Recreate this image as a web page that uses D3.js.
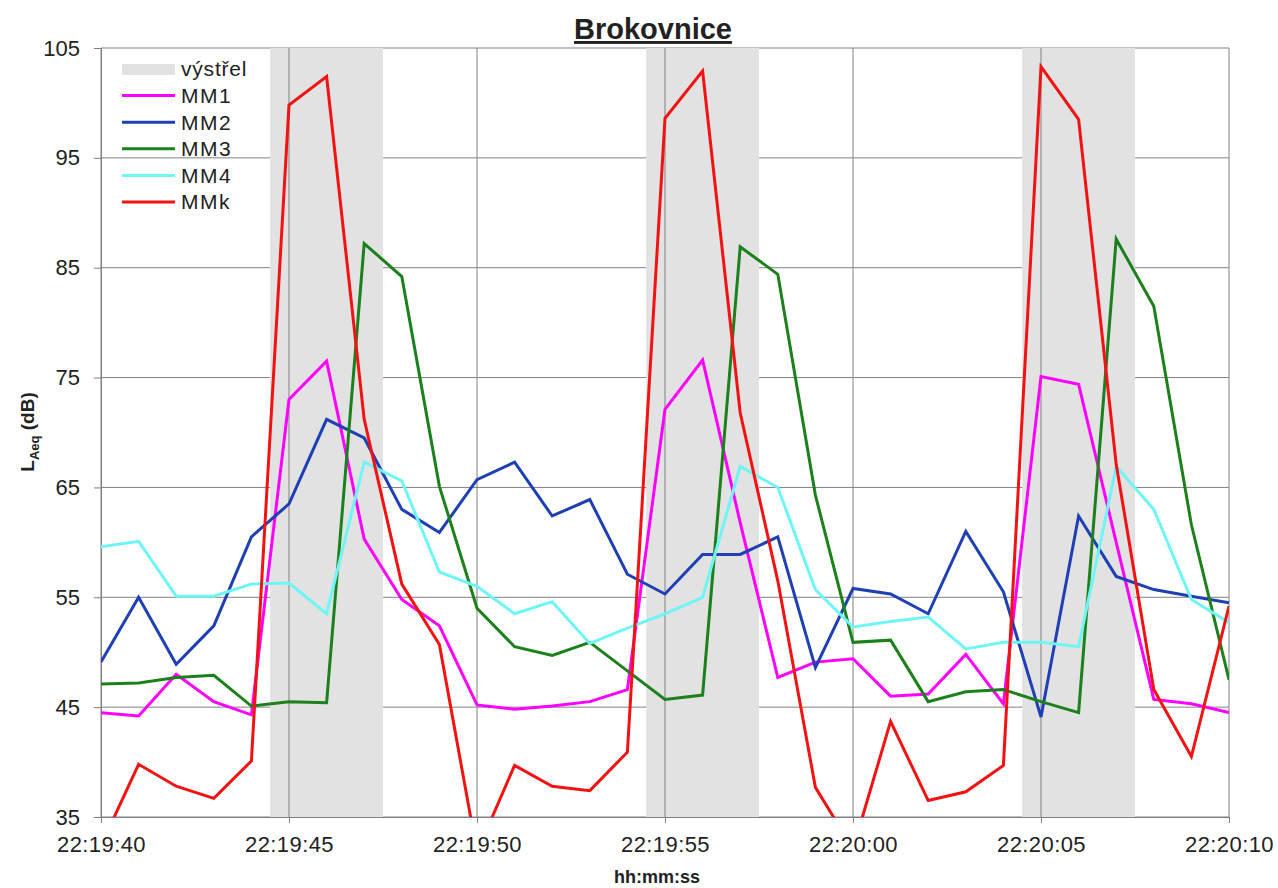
<!DOCTYPE html>
<html>
<head>
<meta charset="utf-8">
<script src="https://cdn.jsdelivr.net/npm/d3@7"></script>
<style>
  body { margin: 0; background: #fff; }
  text { font-family: "Liberation Sans", Arial, sans-serif; fill: #222; }
</style>
</head>
<body>
<div class="chart"></div>
<script>
// time axis: one reading per second, 22:19:40 .. 22:20:10
const startTime = '22:19:40'
const endTime = '22:20:10'
const tickEvery = 5

// shot intervals, seconds from start
const shotStart = [4.5, 14.5, 24.5]
const shotEnd = [7.5, 17.5, 27.5]

const seriesNames = ['MM1', 'MM2', 'MM3', 'MM4', 'MMk']
const colors = ['#ff00ff', '#1f3fb4', '#1c801c', '#6ff5f5', '#f21212']

const mm1 = [44.5, 44.2, 48.0, 45.5, 44.3, 73.0, 76.5, 60.3, 54.8, 52.4, 45.2, 44.8, 45.1, 45.5, 46.6, 72.1,
             76.6, 61.8, 47.7, 49.1, 49.4, 46.0, 46.2, 49.8, 45.3, 75.1, 74.4, 60.0, 45.7, 45.3, 44.5]
const mm2 = [49.1, 55.0, 48.9, 52.4, 60.5, 63.5, 71.2, 69.5, 63.0, 60.9, 65.7, 67.3, 62.4, 63.9, 57.1, 55.3,
             58.9, 58.9, 60.5, 48.6, 55.8, 55.3, 53.5, 61.0, 55.5, 44.1, 62.4, 56.9, 55.7, 55.1, 54.5]
const mm3 = [47.1, 47.2, 47.7, 47.9, 45.1, 45.5, 45.4, 87.2, 84.2, 65.1, 54.0, 50.5, 49.7, 50.9, 48.3, 45.7,
             46.1, 86.9, 84.4, 64.3, 50.9, 51.1, 45.5, 46.4, 46.6, 45.5, 44.5, 87.6, 81.5, 61.6, 47.5]
const mm4 = [59.6, 60.1, 55.1, 55.1, 56.2, 56.3, 53.5, 67.3, 65.6, 57.3, 56.0, 53.5, 54.6, 50.8, 52.2, 53.5,
             55.0, 66.9, 65.0, 55.7, 52.3, 52.8, 53.2, 50.3, 50.9, 50.9, 50.5, 66.9, 63.0, 54.8, 52.7]
const mmk = [32.4, 39.8, 37.8, 36.7, 40.1, 99.8, 102.4, 71.2, 56.2, 50.7, 31.8, 39.7, 37.8, 37.4, 40.9, 98.6,
             102.9, 71.8, 56.5, 37.7, 32.1, 43.7, 36.5, 37.3, 39.7, 103.3, 98.5, 67.1, 46.6, 40.5, 54.2]

const yMin = 35
const yMax = 105
const yStep = 10

const width = 1278
const height = 888
const margin = {top: 48, right: 49, bottom: 71, left: 101}
const w = width - margin.left - margin.right
const h = height - margin.top - margin.bottom

const parse = d3.timeParse('%H:%M:%S')
const t0 = parse(startTime)
const t1 = parse(endTime)
const times = d3.timeSecond.range(t0, d3.timeSecond.offset(t1, 1))

const x = d3.scaleTime().domain([t0, t1]).range([0, w])
const y = d3.scaleLinear().domain([yMin, yMax]).range([h, 0])
const sec = s => d3.timeMillisecond.offset(t0, s * 1000)

const svg = d3.select('.chart')
    .append('svg')
    .attr('width', width)
    .attr('height', height)

const g = svg.append('g')
    .attr('transform', 'translate(' + margin.left + ',' + margin.top + ')')

svg.append('defs').append('clipPath')
    .attr('id', 'plot')
    .append('rect')
    .attr('width', w)
    .attr('height', h)

// horizontal gridlines
const yTicks = d3.range(yMin, yMax + 1, yStep)
g.append('g')
    .selectAll('line')
    .data(yTicks)
    .enter()
    .append('line')
    .attr('x1', 0)
    .attr('x2', w)
    .attr('y1', d => y(d))
    .attr('y2', d => y(d))
    .style('stroke', '#808080')
    .style('stroke-width', 1)

// shot bands
g.append('g')
    .selectAll('rect')
    .data(shotStart)
    .enter()
    .append('rect')
    .attr('x', d => x(sec(d)))
    .attr('width', (d, i) => x(sec(shotEnd[i])) - x(sec(d)))
    .attr('y', 0)
    .attr('height', h)
    .style('fill', '#e2e2e2')

// vertical gridlines
const xTicks = d3.timeSecond.every(tickEvery).range(t0, d3.timeSecond.offset(t1, 1))
g.append('g')
    .selectAll('line')
    .data(xTicks)
    .enter()
    .append('line')
    .attr('x1', d => x(d))
    .attr('x2', d => x(d))
    .attr('y1', 0)
    .attr('y2', h)
    .style('stroke', '#808080')
    .style('stroke-width', 1)

// axes
const yAxis = g.append('g')
    .call(d3.axisLeft(y).tickValues(yTicks).tickFormat(d3.format('d')).tickSize(7).tickPadding(14))
const xAxis = g.append('g')
    .attr('transform', 'translate(0,' + h + ')')
    .call(d3.axisBottom(x).tickValues(xTicks).tickFormat(d3.timeFormat('%H:%M:%S')).tickSize(6).tickPadding(13))

for (const ax of [yAxis, xAxis]) {
    ax.select('.domain').style('stroke', '#808080')
    ax.selectAll('.tick line').style('stroke', '#808080')
    ax.selectAll('text')
        .style('font-size', '22px')
        .style('font-family', '"Liberation Sans", Arial, sans-serif')
        .style('fill', '#222')
}
xAxis.selectAll('text').style('letter-spacing', '0.4px')

// series
const allSeries = [mm1, mm2, mm3, mm4, mmk]
const line = d3.line()
    .x((d, i) => x(times[i]))
    .y(d => y(d))

g.append('g')
    .attr('clip-path', 'url(#plot)')
    .selectAll('path')
    .data(allSeries)
    .enter()
    .append('path')
    .attr('d', d => line(d))
    .style('fill', 'none')
    .style('stroke', (d, i) => colors[i])
    .style('stroke-width', 3)
    .style('stroke-linejoin', 'miter')

// legend
const legend = svg.append('g')
    .attr('transform', 'translate(122,69)')
const rowH = 26.6

legend.append('rect')
    .attr('x', 0)
    .attr('y', -5)
    .attr('width', 53)
    .attr('height', 11)
    .style('fill', '#e2e2e2')

legend.append('text')
    .attr('x', 59)
    .attr('y', 0)
    .attr('dy', '0.35em')
    .style('font-size', '21px')
    .style('letter-spacing', '0.8px')
    .text('výstřel')

const rows = legend.selectAll('.row')
    .data(seriesNames)
    .enter()
    .append('g')
    .attr('class', 'row')
    .attr('transform', (d, i) => 'translate(0,' + (i + 1) * rowH + ')')

rows.append('line')
    .attr('x1', 0)
    .attr('x2', 53)
    .style('stroke', (d, i) => colors[i])
    .style('stroke-width', 3)

rows.append('text')
    .attr('x', 59)
    .attr('dy', '0.35em')
    .style('font-size', '21px')
    .style('letter-spacing', '1.5px')
    .text(d => d)

// title and axis titles
svg.append('text')
    .attr('x', 653)
    .attr('y', 39)
    .attr('text-anchor', 'middle')
    .style('font-size', '29px')
    .style('font-weight', 'bold')
    .style('text-decoration', 'underline')
    .text('Brokovnice')

svg.append('text')
    .attr('x', 657)
    .attr('y', 883)
    .attr('text-anchor', 'middle')
    .style('font-size', '18px')
    .style('font-weight', 'bold')
    .text('hh:mm:ss')

const yl = svg.append('text')
    .attr('transform', 'translate(34,432) rotate(-90)')
    .attr('text-anchor', 'middle')
    .style('font-size', '19px')
    .style('font-weight', 'bold')
yl.append('tspan').text('L')
yl.append('tspan').attr('dy', 5).style('font-size', '13px').text('Aeq')
yl.append('tspan').attr('dy', -5).text(' (dB)')
</script>
</body>
</html>
